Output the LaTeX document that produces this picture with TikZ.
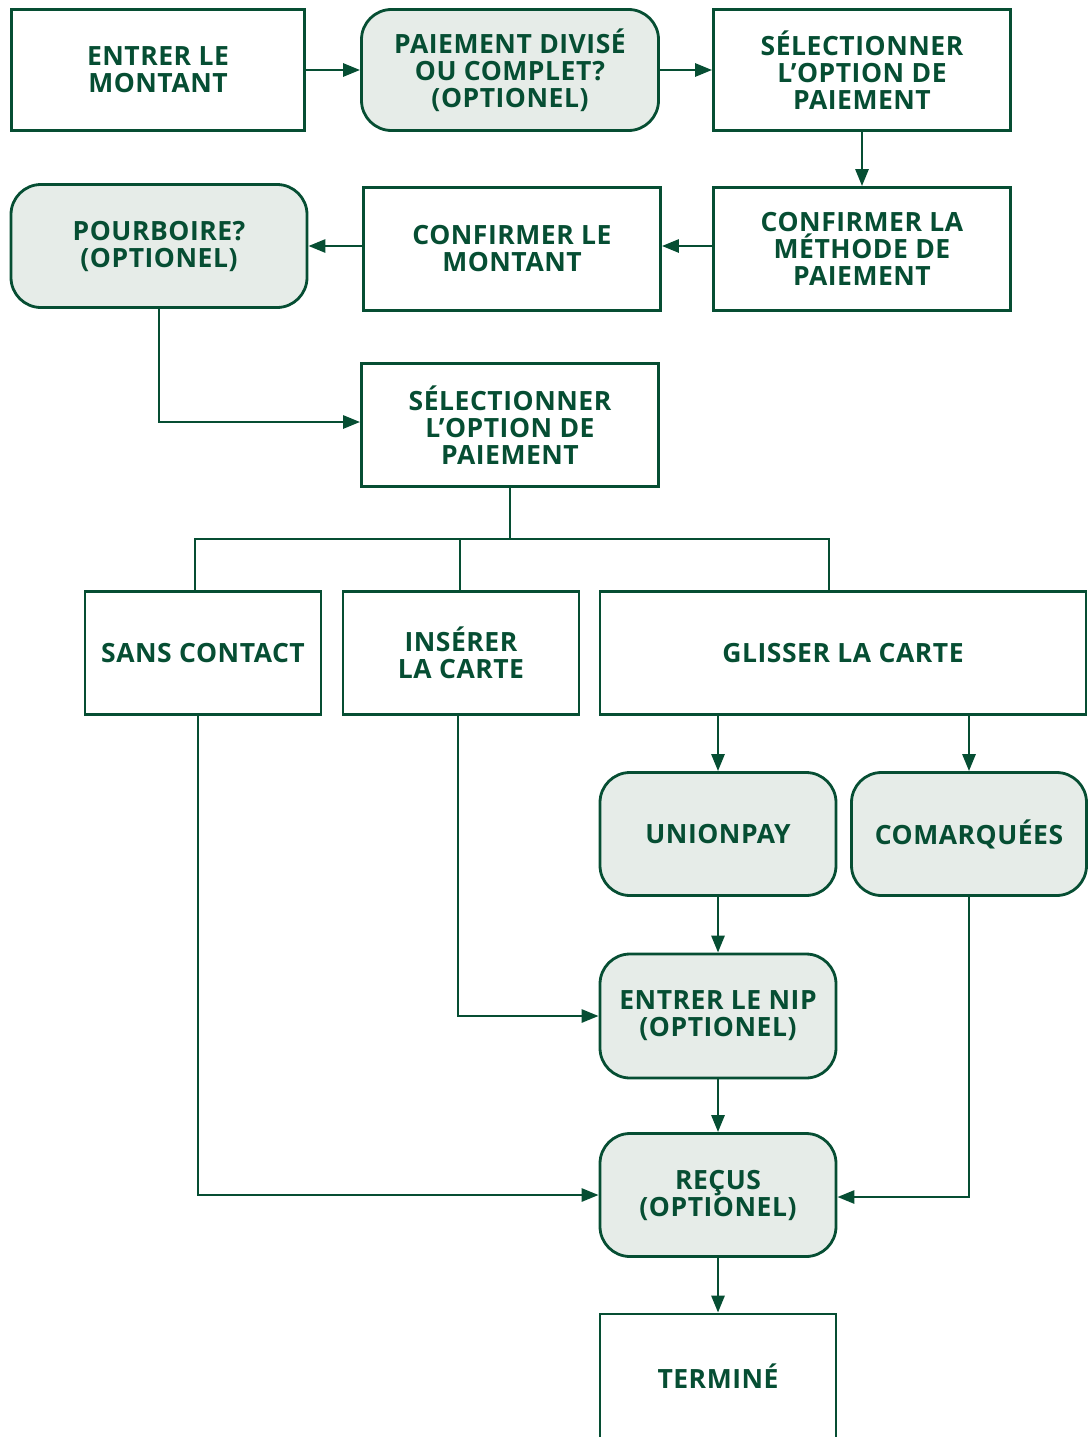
\documentclass[tikz,border=0pt]{standalone}
\usepackage{fontspec}
\setmainfont{Open Sans}[LetterSpace=2]
\usetikzlibrary{arrows.meta}
\definecolor{dg}{RGB}{6,78,51}
\definecolor{lg}{RGB}{230,236,232}
\tikzset{
  box/.style={draw=dg, line width=2.8pt, align=center, text=dg, inner sep=0pt,
    font=\fontsize{26.5}{27}\selectfont\bfseries},
  rbox/.style={box, fill=lg, rounded corners=30pt},
  arr/.style={draw=dg, line width=2.8pt, -{Triangle[length=17pt,width=13pt]}},
  ln/.style={draw=dg, line width=2.8pt},
}
\begin{document}
\begin{tikzpicture}[x=1pt,y=-1pt]
\useasboundingbox (0,0) rectangle (1088,1437);
\node[box, minimum width=293pt, minimum height=121pt] (n1) at (158,70) {ENTRER LE\\MONTANT};
\node[rbox, minimum width=297pt, minimum height=121pt] (n2) at (510,70) {PAIEMENT DIVISÉ\\OU COMPLET?\\(OPTIONEL)};
\node[box, minimum width=297pt, minimum height=121pt] (n3) at (862,70) {SÉLECTIONNER\\L’OPTION DE\\PAIEMENT};
\node[box, minimum width=297pt, minimum height=123pt] (n4) at (862,249) {CONFIRMER LA\\MÉTHODE DE\\PAIEMENT};
\node[box, minimum width=297pt, minimum height=123pt] (n5) at (512,249) {CONFIRMER LE\\MONTANT};
\node[rbox, minimum width=296pt, minimum height=123pt] (n6) at (159,246) {POURBOIRE?\\(OPTIONEL)};
\node[box, minimum width=297pt, minimum height=123pt] (n7) at (510,425) {SÉLECTIONNER\\L’OPTION DE\\PAIEMENT};
\node[box, minimum width=236pt, minimum height=123pt] (n8) at (203,653) {SANS CONTACT};
\node[box, minimum width=236pt, minimum height=123pt] (n9) at (461,653) {INSÉRER\\LA CARTE};
\node[box, minimum width=486pt, minimum height=123pt] (n10) at (843,653) {GLISSER LA CARTE};
\node[rbox, minimum width=236pt, minimum height=123pt] (n11) at (718,834) {UNIONPAY};
\node[rbox, minimum width=235pt, minimum height=123pt] (n12) at (969,834) {COMARQUÉES};
\node[rbox, minimum width=236pt, minimum height=124pt] (n13) at (718,1016) {ENTRER LE NIP\\(OPTIONEL)};
\node[rbox, minimum width=236pt, minimum height=123pt] (n14) at (718,1195) {REÇUS\\(OPTIONEL)};
\node[box, minimum width=236pt, minimum height=124pt] (n15) at (718,1376) {TERMINÉ};
\draw[arr] (n1) -- (n2);
\draw[arr] (n2) -- (n3);
\draw[arr] (n3) -- (n4);
\draw[arr] ([yshift=3pt]n4.west) -- ([yshift=3pt]n5.east);
\draw[arr] ([yshift=3pt]n5.west) -- (n6.east);
\draw[arr] (n6.south) |- ([yshift=3pt]n7.west);
\coordinate (ta) at (195,539);
\coordinate (tb) at (829,539);
\draw[ln] (ta |- n8.north) -- (ta) -- (tb) -- (tb |- n10.north);
\draw[ln] (n7.south) -- (n7.south |- ta);
\draw[ln] ([xshift=-1pt]n9.north) -- ([xshift=-1pt]n9.north |- ta);
\draw[arr] (n11.north |- n10.south) -- (n11.north);
\draw[arr] (n12.north |- n10.south) -- (n12.north);
\draw[arr] (n11) -- (n13);
\draw[arr] ([xshift=-3pt]n9.south) |- (n13.west);
\draw[arr] (n13) -- (n14);
\draw[arr] ([xshift=-5pt]n8.south) |- (n14.west);
\draw[arr] (n12.south) |- ([yshift=-2pt]n14.east);
\draw[arr] (n14) -- (n15);
\end{tikzpicture}
\end{document}
